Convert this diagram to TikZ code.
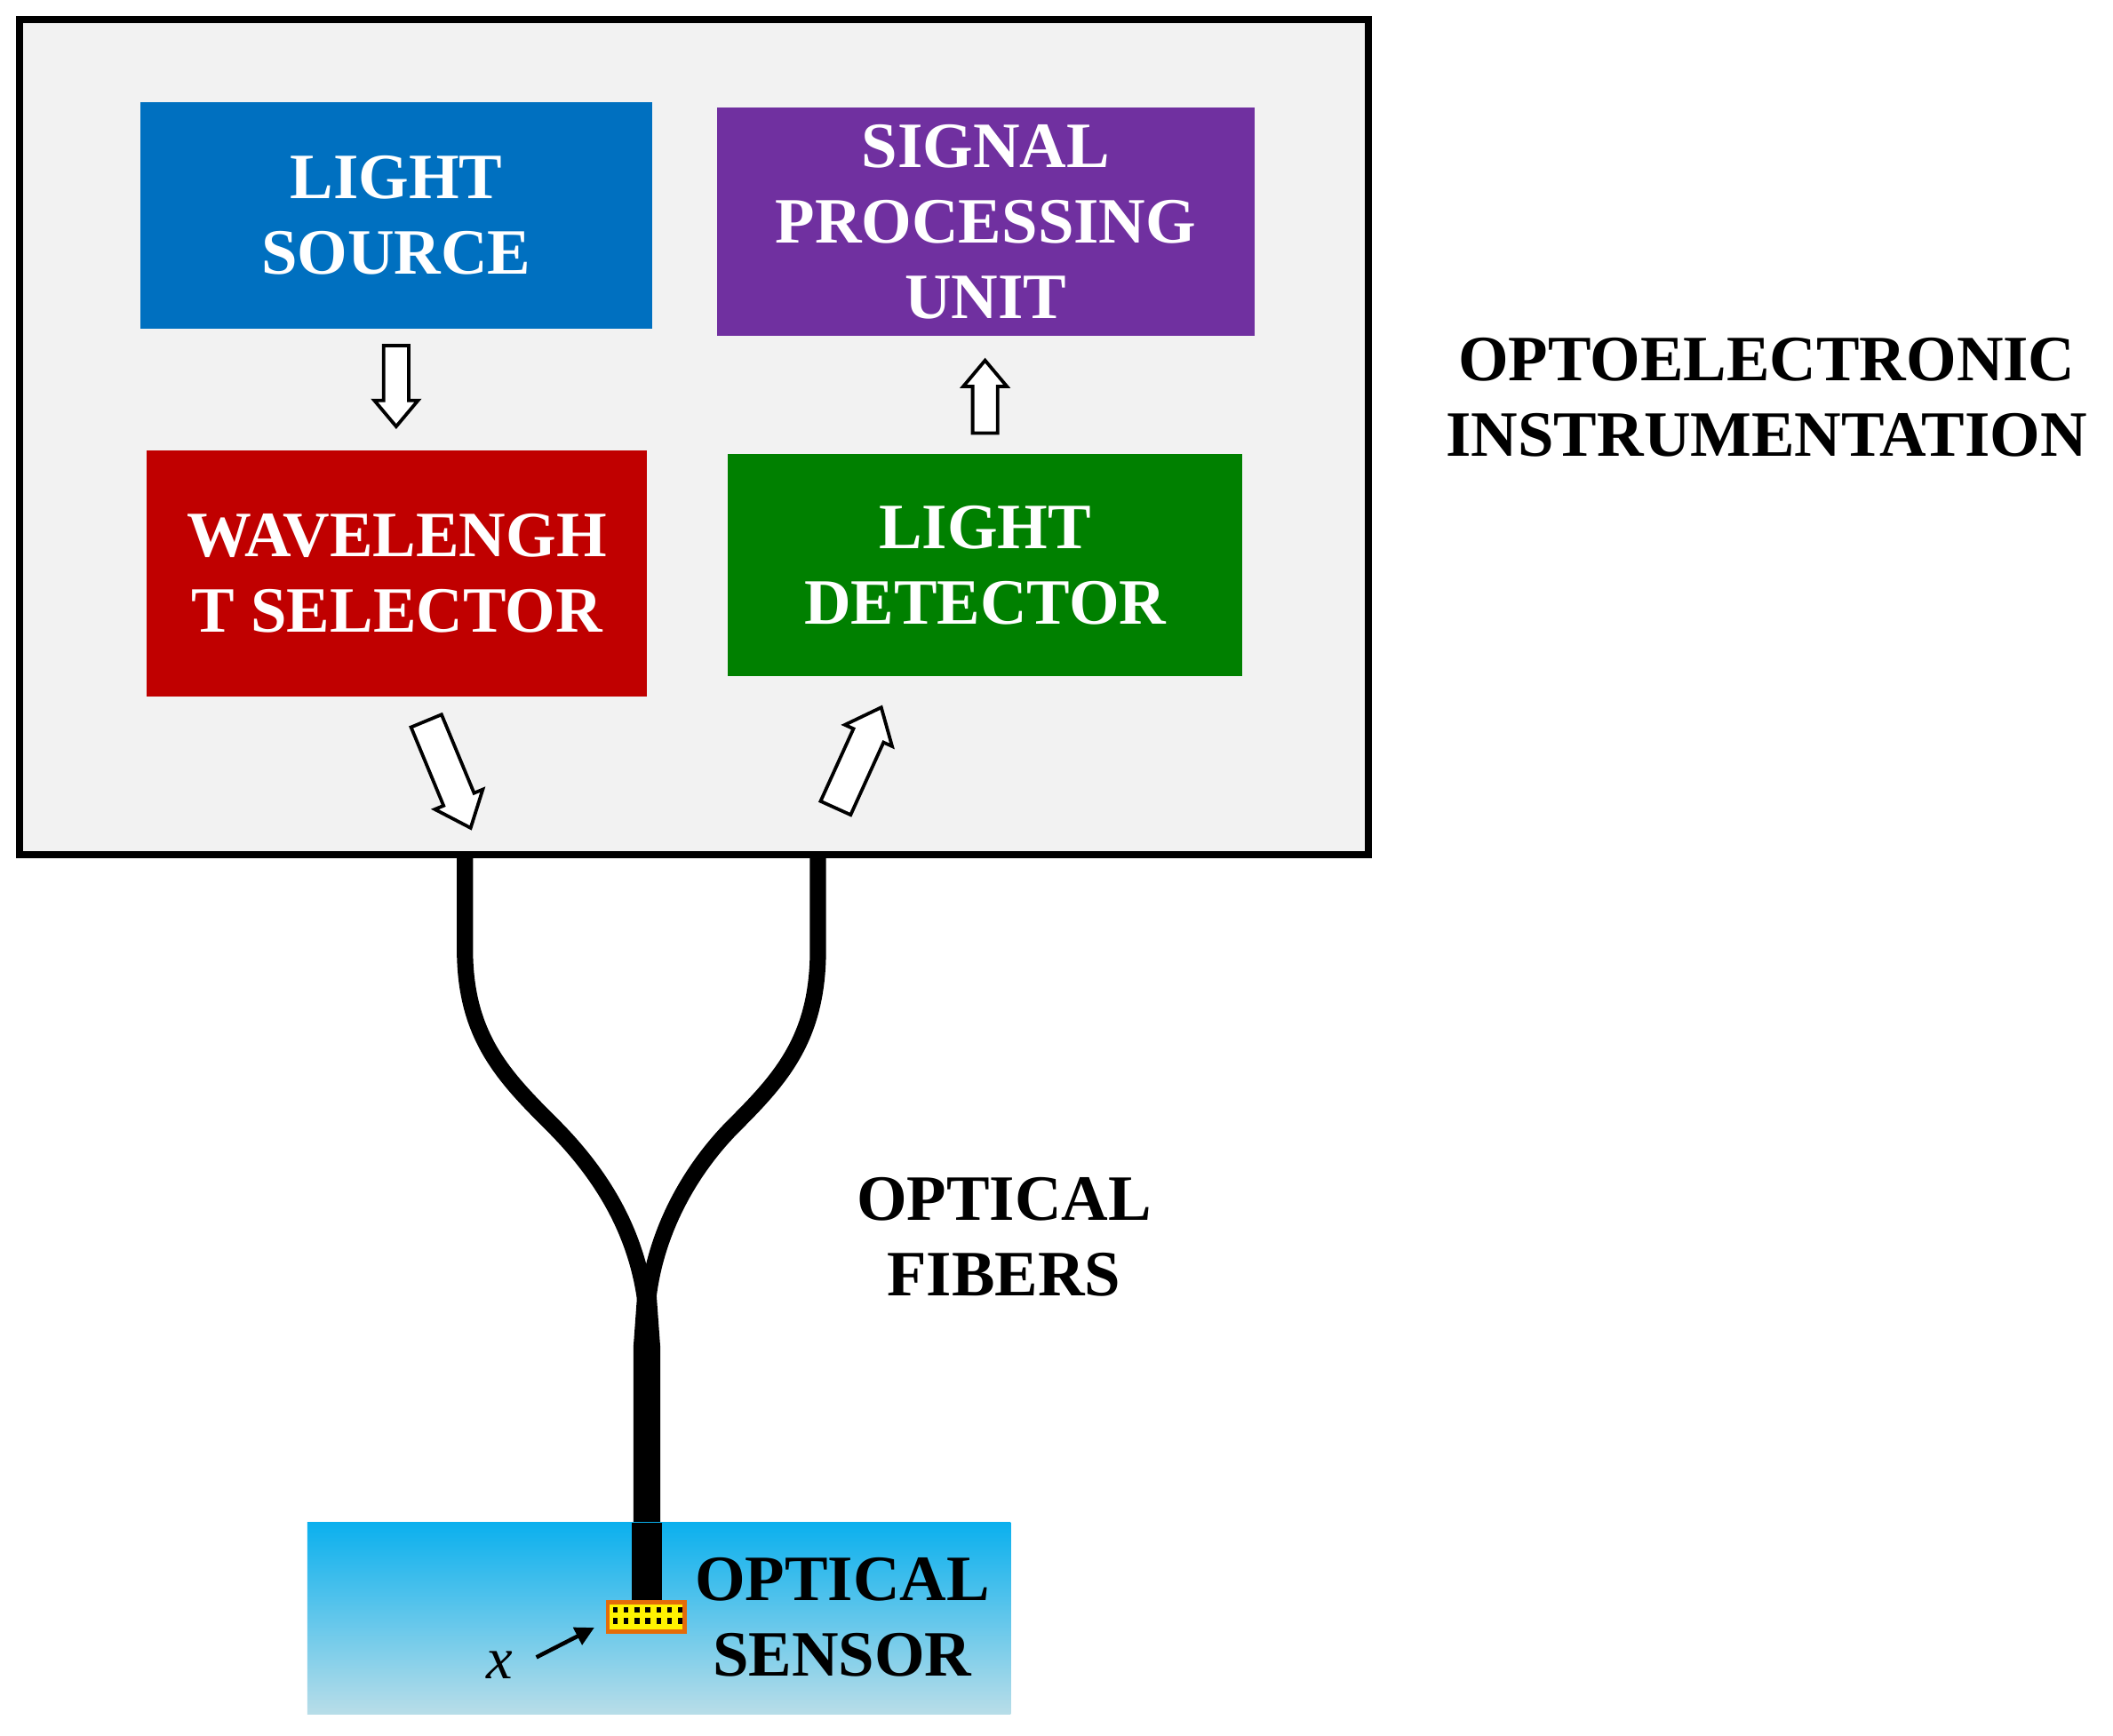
\documentclass[tikz,border=0pt]{standalone}
\usepackage{fontspec}
\setmainfont{Liberation Serif}
\usetikzlibrary{arrows.meta,shapes.arrows}
\definecolor{bg}{HTML}{F2F2F2}
\definecolor{cblue}{HTML}{0070C0}
\definecolor{cpurp}{HTML}{7030A0}
\definecolor{cred}{HTML}{C00000}
\definecolor{cgreen}{HTML}{008000}
\definecolor{wtop}{HTML}{0BB0EE}
\definecolor{wbot}{HTML}{B8DDE8}
\definecolor{corange}{HTML}{E46C0A}
\begin{document}
\begin{tikzpicture}[x=1pt,y=-1pt,
  lbl/.style={font=\fontsize{48}{56}\selectfont\bfseries, align=center, inner sep=0},
  harrow/.style={single arrow, draw=black, line width=2.5pt, fill=white, single arrow head extend=7pt, single arrow head indent=0pt, single arrow tip angle=80, inner xsep=0pt, inner ysep=0pt},
  fiber/.style={line width=12pt, line join=round}]
\useasboundingbox (0,0) rectangle (1568,1288);
\fill[white] (0,0) rectangle (1568,1288);
\node[draw=black, line width=5pt, fill=bg, minimum width=1001pt, minimum height=620pt, anchor=north west, inner sep=0] (box) at (12,12) {};
\node[fill=cblue, minimum width=380pt, minimum height=168pt] (ls) at (294,160) {};
\node[lbl,text=white] at (ls) {LIGHT\\SOURCE};
\node[fill=cpurp, minimum width=399pt, minimum height=169pt] (sp) at (731.5,164.5) {};
\node[lbl,text=white] at (sp) {SIGNAL\\PROCESSING\\UNIT};
\node[fill=cred, minimum width=371pt, minimum height=183pt] (ws) at (294.5,425.5) {};
\node[lbl,text=white] at (ws) {WAVELENGH\\T SELECTOR};
\node[fill=cgreen, minimum width=382pt, minimum height=165pt] (ld) at (731,419.5) {};
\node[lbl,text=white] at (ld) {LIGHT\\DETECTOR};
\node[harrow, minimum height=60pt, rotate=-90] (a1) at (294,281) {\rule{0pt}{16pt}};
\node[harrow, minimum height=54pt, rotate=90] (b1) at (731,300) {\rule{0pt}{16pt}};
\node[harrow, minimum height=86pt, rotate=-67.5] (c1) at (330,568) {\rule{0pt}{22pt}};
\node[harrow, minimum height=82pt, rotate=65.6] (d1) at (634,569) {\rule{0pt}{22pt}};
% fibers
\coordinate (fl) at (345,632); \coordinate (fr) at (607,632);
\coordinate (j) at (480,975); \coordinate (s) at (480,1190);
\draw[fiber] (fl) -- (345,705) .. controls (345,770) and (375,800) .. (410,835) .. controls (450,875) and (475,920) .. (j);
\draw[fiber] (fr) -- (607,705) .. controls (607,770) and (580,800) .. (545,835) .. controls (510,870) and (483,920) .. (j);
\fill[black] (474,945) -- (486,945) -- (490,1000) -- (490,1190) -- (470,1190) -- (470,1000) -- cycle;
% sensor pool
\shade[top color=wtop, bottom color=wbot] (228,1130) rectangle (750,1272);
\fill[black] (469,1130) rectangle (491,1192);
\node[draw=corange, line width=3pt, fill=yellow, minimum width=57pt, minimum height=22pt, inner sep=0] (sen) at (479.5,1200) {};
\foreach \i in {0,...,6} \foreach \k in {0,1} \fill[black] (455+8*\i,1193) ++(0,8*\k) rectangle ++(3.5,4);
\coordinate (xa) at (398,1230);
\node[font=\fontsize{44}{44}\selectfont\itshape, inner sep=0] (xl) at (371,1236) {x};
\draw[line width=3pt, -{Triangle[length=14pt,width=14pt]}] (xa) -- (441,1208);
\node[lbl] at (625,1200) {OPTICAL\\SENSOR};
\node[lbl] at (745,918) {OPTICAL\\FIBERS};
\node[lbl] at (1311,295) {OPTOELECTRONIC\\INSTRUMENTATION};
\end{tikzpicture}
\end{document}
